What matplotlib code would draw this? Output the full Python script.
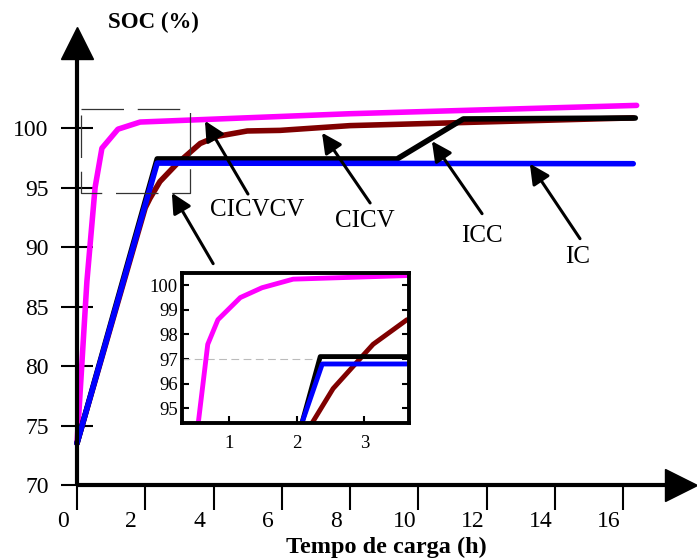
import matplotlib
matplotlib.use("Agg")
import matplotlib.pyplot as plt
import matplotlib.transforms as mtransforms

plt.rcParams['font.family'] = ['Liberation Serif', 'DejaVu Serif']

# ── Data ────────────────────────────────────────────────
# main chart
cicvcv_t = [0.0, 0.29, 0.53, 0.73, 1.20, 1.85, 8.0, 16.4]
cicvcv_soc = [73.5, 87.1, 95.0, 98.3, 99.9, 100.5, 101.2, 101.9]

cicv_t = [0.0, 2.0, 2.14, 2.43, 2.93, 3.61, 4.11, 4.99, 5.95, 8.0, 16.3]
cicv_soc = [73.5, 93.3, 94.1, 95.5, 97.0, 98.7, 99.3, 99.75, 99.8, 100.2, 100.85]

icc_t = [0.0, 2.35, 9.38, 11.32, 16.36]
icc_soc = [73.5, 97.4, 97.4, 100.76, 100.84]

ic_t = [0.0, 2.35, 16.3]
ic_soc = [73.5, 97.05, 97.0]

# zoomed inset
z_cicvcv_t = [0.55, 0.69, 0.84, 1.17, 1.49, 1.95, 3.68]
z_cicvcv_soc = [94.4, 97.6, 98.6, 99.5, 99.9, 100.25, 100.4]
z_cicv_t = [2.23, 2.54, 2.90, 3.13, 3.38, 3.63]
z_cicv_soc = [94.4, 95.8, 96.9, 97.6, 98.1, 98.6]
z_icc_t = [2.08, 2.35, 3.68]
z_icc_soc = [94.4, 97.1, 97.1]
z_ic_t = [2.08, 2.38, 3.68]
z_ic_soc = [94.4, 96.8, 96.8]

x_ticks = [0, 2, 4, 6, 8, 10, 12, 14, 16]
y_ticks = [70, 75, 80, 85, 90, 95, 100]
z_x_ticks = [1, 2, 3]
z_y_ticks = [95, 96, 97, 98, 99, 100]

# ── Figure ──────────────────────────────────────────────
W, H = 697, 559
fig = plt.figure(figsize=(W / 100, H / 100), dpi=100)

def px_box(l, t, r, b):
    return [l / W, 1 - b / H, (r - l) / W, (b - t) / H]

ax = fig.add_axes(px_box(77, 43, 681, 485))
ax.set_xlim(0, (681 - 77) / 34.125)
ax.set_ylim(70, 70 + (485 - 43) / 11.9)
for s in ('top', 'right'):
    ax.spines[s].set_visible(False)
for s in ('left', 'bottom'):
    ax.spines[s].set_linewidth(3)
    ax.spines[s].set_capstyle('butt')

# arrow heads of the axes
ax.plot([0], [1], marker='^', ms=23, color='k', transform=ax.transAxes, clip_on=False)
ax.plot([1], [0], marker='>', ms=23, color='k', transform=ax.transAxes, clip_on=False)

ax.set_xticks(x_ticks)
ax.set_yticks(y_ticks)
ax.tick_params(axis='y', direction='inout', length=23, width=1.5, pad=9, labelsize=17)
ax.tick_params(axis='x', direction='out', length=18, width=1.5, pad=1, labelsize=17)
shift = mtransforms.ScaledTranslation(-0.14, 0, fig.dpi_scale_trans)
for lab in ax.get_xticklabels():
    lab.set_transform(lab.get_transform() + shift)

lw = 4
ax.plot(cicvcv_t, cicvcv_soc, color='#FF00FF', lw=lw, solid_capstyle='round', clip_on=False)
ax.plot(cicv_t, cicv_soc, color='#800000', lw=lw, solid_capstyle='round', clip_on=False)
ax.plot(icc_t, icc_soc, color='k', lw=lw, solid_capstyle='round', clip_on=False)
ax.plot(ic_t, ic_soc, color='#0000FF', lw=lw, solid_capstyle='round', clip_on=False)

# dashed zoom box
bx0, bx1, by0, by1 = 0.11, 3.31, 94.5, 101.6
ax.plot([bx0, bx1, bx1, bx0, bx0], [by1, by1, by0, by0, by1], color='#333333',
        lw=0.9, dashes=(34, 11))

# annotations: (label, text pos, arrow tail, arrow head)
notes = [
    ("CICVCV", (5.27, 93.1), (5.01, 94.45), (3.75, 100.6)),
    ("CICV", (8.44, 92.2), (8.59, 93.7), (7.18, 99.6)),
    ("ICC", (11.87, 90.9), (11.87, 92.8), (10.40, 98.9)),
    ("IC", (14.68, 89.2), (14.74, 90.7), (13.27, 97.0)),
    (None, None, (3.99, 88.6), (2.78, 94.55)),
]
for label, tpos, tail, head in notes:
    ax.annotate('', xy=head, xytext=tail,
                arrowprops=dict(arrowstyle='-|>', color='k', lw=2.2,
                                mutation_scale=30, shrinkA=0, shrinkB=0))
    if label:
        ax.text(tpos[0], tpos[1], label, fontsize=18, ha='center', va='center')

fig.text(153 / W, 1 - 22 / H, "SOC (%)", fontsize=16.5, fontweight='bold',
         ha='center', va='center')
fig.text(386 / W, 1 - 547 / H, "Tempo de carga (h)", fontsize=17.5, fontweight='bold',
         ha='center', va='center')

# ── Inset ───────────────────────────────────────────────
axz = fig.add_axes(px_box(182, 273, 409, 423))
axz.set_facecolor('white')
axz.set_xlim(0.31, 3.66)
axz.set_ylim(94.4, 100.5)
for s in axz.spines.values():
    s.set_linewidth(2.8)
axz.set_xticks(z_x_ticks)
axz.set_yticks(z_y_ticks)
axz.tick_params(direction='in', length=5, width=1.5, labelsize=13.5, right=True)
axz.tick_params(axis='x', pad=9)
axz.tick_params(axis='y', pad=3)

axz.hlines(97, 0.31, 2.35, color='#BBBBBB', lw=0.8, linestyles=(0, (7, 4)))
zlw = 3.5
axz.plot(z_cicvcv_t, z_cicvcv_soc, color='#FF00FF', lw=zlw, solid_capstyle='round')
axz.plot(z_cicv_t, z_cicv_soc, color='#800000', lw=zlw, solid_capstyle='round')
axz.plot(z_icc_t, z_icc_soc, color='k', lw=zlw, solid_capstyle='round')
axz.plot(z_ic_t, z_ic_soc, color='#0000FF', lw=zlw, solid_capstyle='round')

fig.savefig("out.png", dpi=100)
